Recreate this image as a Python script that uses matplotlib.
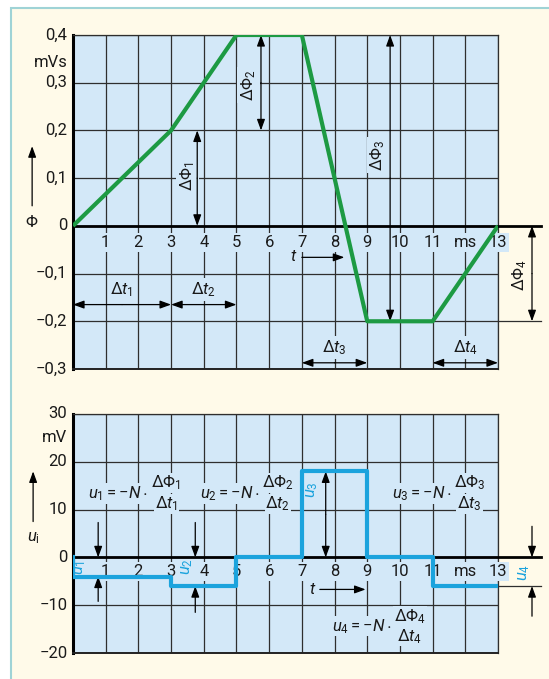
"""Magnetic flux and induced voltage over time for a coil with N turns."""

import numpy as np
import matplotlib.pyplot as plt
from matplotlib.patches import Rectangle

# flux curve (ms, mVs)
T_PHI = [0, 3, 5, 7, 9, 11, 13]
PHI = [0, 0.2, 0.4, 0.4, -0.2, -0.2, 0]

# induced voltage, one value per time interval (ms, mV)
T_EDGES = [0, 3, 5, 7, 9, 11, 13]
U_I = [-4, -6, 0, 18, 0, -6]

X_TICKS = list(range(0, 14))
X_LABELS = ["1", "2", "3", "4", "5", "6", "7", "8", "9", "10", "11", "ms", "13"]
PHI_TICKS = [0.4, 0.3, 0.2, 0.1, 0.0, -0.1, -0.2, -0.3]
PHI_LABELS = ["0,4", "0,3", "0,2", "0,1", "0", "\u22120,1", "\u22120,2", "\u22120,3"]
U_TICKS = [30, 20, 10, 0, -10, -20]
U_LABELS = ["30", "20", "10", "0", "\u221210", "\u221220"]

BG = "#d3e8f8"
PAPER = "#fffae9"
GRID = "#2e2e2e"
GREEN = "#1d9a43"
BLUE = "#1ba3dd"
FS = 12

plt.rcParams["font.family"] = ["Roboto", "DejaVu Sans"]
plt.rcParams["mathtext.fontset"] = "custom"
plt.rcParams["mathtext.rm"] = "Roboto"
plt.rcParams["mathtext.it"] = "Roboto:italic"
plt.rcParams["mathtext.bf"] = "Roboto:bold"


def mask(color=BG, pad=0.12):
    return dict(boxstyle=f"square,pad={pad}", fc=color, ec="none")


def label(ax, x, y, s, **kw):
    kw.setdefault("fontsize", FS)
    kw.setdefault("ha", "center")
    kw.setdefault("va", "center")
    kw.setdefault("bbox", mask())
    kw.setdefault("clip_on", False)
    return ax.text(x, y, s, color=kw.pop("color", "#1a1a1a"), **kw)


def arrow(ax, start, end, lw=0.9):
    ax.annotate("", xy=end, xytext=start, annotation_clip=False,
                arrowprops=dict(arrowstyle="-|>,head_length=0.55,head_width=0.2",
                                color="k", lw=lw, mutation_scale=12,
                                shrinkA=0, shrinkB=0),
                zorder=3.5)


def setup_grid(ax, ylim, ystep):
    ax.set_facecolor(BG)
    ax.set_xlim(0, 13)
    ax.set_ylim(*ylim)
    ax.set_xticks(X_TICKS)
    ax.set_yticks(np.arange(ylim[0], ylim[1] + ystep / 2, ystep))
    ax.tick_params(length=0, labelbottom=False, labelleft=False)
    ax.grid(True, color=GRID, lw=0.9)
    ax.set_axisbelow(True)
    for side in ("top", "right"):
        ax.spines[side].set_color(GRID)
        ax.spines[side].set_linewidth(0.9)
    ax.spines["left"].set_linewidth(2.2)
    ax.spines["left"].set_color("k")
    ax.spines["bottom"].set_linewidth(1.4)
    ax.spines["bottom"].set_color("#222222")
    # zero line runs past the grid for the dimension on the right
    ax.plot([0, 14.3], [0, 0], color="k", lw=2, clip_on=False, zorder=3)


def plot_flux(ax):
    setup_grid(ax, (-0.3, 0.4), 0.1)
    ax.plot(T_PHI, PHI, color=GREEN, lw=3, zorder=4, solid_capstyle="butt")

    for t, s in zip(X_TICKS[1:], X_LABELS):
        label(ax, t, -0.034, s)
    for v, s in zip(PHI_TICKS, PHI_LABELS):
        label(ax, -0.17, v, s, ha="right", bbox=mask(PAPER))
    label(ax, -0.17, 0.343, "mVs", ha="right", bbox=mask(PAPER))
    label(ax, -1.25, 0.008, r"$\mathit{\Phi}$", bbox=mask(PAPER))
    arrow(ax, (-1.25, 0.042), (-1.25, 0.167))

    label(ax, 6.75, -0.065, r"$t$")
    arrow(ax, (7.0, -0.066), (8.3, -0.066))

    # flux differences
    label(ax, 3.5, 0.105, r"$\Delta\mathit{\Phi}_1$", rotation=90)
    arrow(ax, (3.8, 0.1), (3.8, 0.2))
    arrow(ax, (3.8, 0.1), (3.8, 0.0))
    label(ax, 5.37, 0.295, r"$\Delta\mathit{\Phi}_2$", rotation=90)
    arrow(ax, (5.75, 0.3), (5.75, 0.4))
    arrow(ax, (5.75, 0.3), (5.75, 0.2))
    label(ax, 9.33, 0.148, r"$\Delta\mathit{\Phi}_3$", rotation=90)
    arrow(ax, (9.7, 0.1), (9.7, 0.4))
    arrow(ax, (9.7, 0.1), (9.7, -0.2))
    ax.plot([13, 14.3], [-0.2, -0.2], color=GRID, lw=0.9, clip_on=False)
    label(ax, 13.67, -0.103, r"$\Delta\mathit{\Phi}_4$", rotation=90, bbox=mask(PAPER))
    arrow(ax, (14.04, -0.1), (14.04, 0.0))
    arrow(ax, (14.04, -0.1), (14.04, -0.2))

    # time intervals
    for t0, t1, y in [(0, 3, -0.165), (3, 5, -0.165), (7, 9, -0.287), (11, 13, -0.287)]:
        mid = (t0 + t1) / 2
        arrow(ax, (mid, y), (t0, y))
        arrow(ax, (mid, y), (t1, y))
    for i, (x, y) in enumerate([(1.5, -0.134), (4, -0.134), (8, -0.255), (12, -0.255)]):
        label(ax, x, y, rf"$\Delta t_{i + 1}$")


def formula(ax, x_split, y, idx, dy):
    """Write u = -N * dPhi/dt with the fraction starting at x_split."""
    label(ax, x_split - 0.08, y, rf"$u_{idx} = -N\cdot$", ha="right",
          bbox=mask(pad=0.05))
    label(ax, x_split + 0.47, y + dy, rf"$\Delta\mathit{{\Phi}}_{idx}$",
          bbox=mask(pad=0.05))
    label(ax, x_split + 0.47, y - dy, rf"$\Delta t_{idx}$", bbox=mask(pad=0.05))


def plot_voltage(ax):
    setup_grid(ax, (-20, 30), 10)
    xs = [T_EDGES[0]] + T_EDGES
    ys = [0] + U_I + [U_I[-1]]
    ax.step(xs, ys, where="post", color=BLUE, lw=3, zorder=4)

    for t, s in zip(X_TICKS[1:], X_LABELS):
        label(ax, t, -2.9, s)
    for v, s in zip(U_TICKS, U_LABELS):
        label(ax, -0.17, v, s, ha="right", bbox=mask(PAPER))
    label(ax, -0.17, 25, "mV", ha="right", bbox=mask(PAPER))
    label(ax, -1.22, 4.0, r"$u_\mathrm{i}$", bbox=mask(PAPER))
    arrow(ax, (-1.22, 7.5), (-1.22, 18))

    label(ax, 7.33, -6.7, r"$t$")
    arrow(ax, (7.55, -6.7), (8.95, -6.7))

    formula(ax, 2.38, 13.4, 1, 2.2)
    formula(ax, 5.8, 13.4, 2, 2.2)
    formula(ax, 11.66, 13.4, 3, 2.2)
    formula(ax, 9.84, -14.4, 4, 2.1)

    # voltage dimensions
    arrow(ax, (0.77, 7.3), (0.77, 0))
    arrow(ax, (0.77, -9.2), (0.77, -4))
    label(ax, 0.21, -2.1, r"$u_1$", rotation=90, color=BLUE, bbox=None)
    arrow(ax, (3.74, 7.3), (3.74, 0))
    arrow(ax, (3.74, -11.5), (3.74, -6))
    label(ax, 3.5, -2.0, r"$u_2$", rotation=90, color=BLUE, bbox=None)
    arrow(ax, (7.73, 9), (7.73, 18))
    arrow(ax, (7.73, 9), (7.73, 0))
    label(ax, 7.31, 14.2, r"$u_3$", rotation=90, color=BLUE, bbox=None)
    ax.plot([13, 14.3], [-6, -6], color=GRID, lw=0.9, clip_on=False)
    arrow(ax, (14.04, 6.5), (14.04, 0))
    arrow(ax, (14.04, -12.3), (14.04, -6))
    label(ax, 13.8, -3.1, r"$u_4$", rotation=90, color=BLUE, bbox=None)


def main():
    fig = plt.figure(figsize=(5.49, 6.79), dpi=100, facecolor="white")
    fig.patches.append(Rectangle((11 / 549, -0.01), 1.0, 1 - 8 / 679 + 0.01,
                                 transform=fig.transFigure, fc=PAPER,
                                 ec="#9fd3d6", lw=1.5, zorder=-10))

    ax_phi = fig.add_axes([73 / 549, 1 - 369 / 679, 425 / 549, 334 / 679])
    ax_u = fig.add_axes([73 / 549, 1 - 653 / 679, 425 / 549, 239 / 679])

    plot_flux(ax_phi)
    plot_voltage(ax_u)

    fig.savefig("out.png", dpi=100, facecolor=fig.get_facecolor())


if __name__ == "__main__":
    main()
